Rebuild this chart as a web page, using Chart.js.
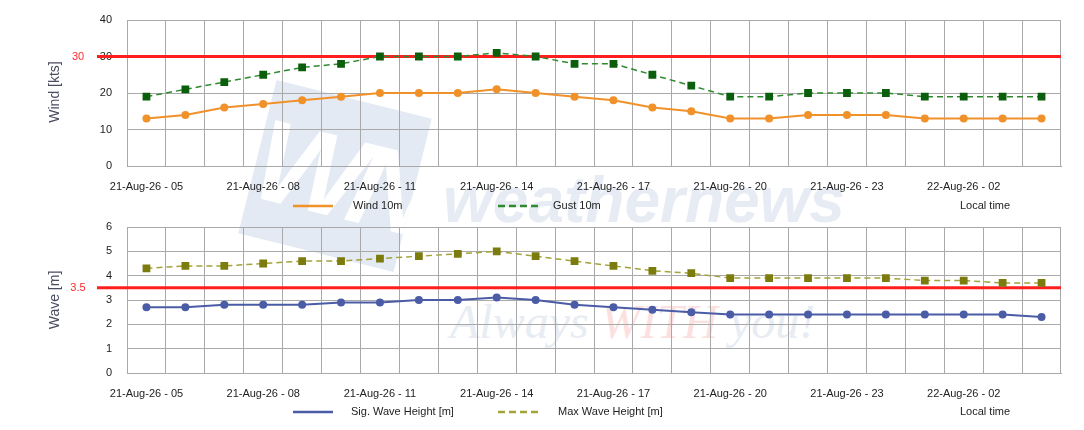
<!DOCTYPE html>
<html>
<head>
<meta charset="utf-8">
<script src="https://cdn.jsdelivr.net/npm/chart.js"></script>
<style>
  body { margin: 0; background: #fff; }
  #sheet { position: relative; width: 1084px; height: 430px; overflow: hidden; }
  .mark { position: absolute; white-space: nowrap; z-index: 0; }
  #logo {
    left: 255px; top: 97px; width: 160px; height: 158px;
    background: #e4eaf3; color: #fff; transform: rotate(14deg);
    font: italic bold 116px/158px "Liberation Sans", Arial, sans-serif;
    text-align: center; letter-spacing: -12px; overflow: hidden;
  }
  #brand {
    left: 443px; top: 168px; color: #e6ebf4;
    font: italic bold 64px/64px "Liberation Sans", Arial, sans-serif;
  }
  #motto {
    left: 450px; top: 298px; color: #e8ecf3;
    font: italic 48px/48px "Liberation Serif", "Times New Roman", serif;
  }
  #motto span { color: #fce0e0; }
  .box { position: absolute; left: 0; width: 1084px; height: 215px; z-index: 1; }
  #windBox { top: 0; }
  #waveBox { top: 215px; }
</style>
</head>
<body>
<div id="sheet">
  <div class="mark" id="logo">WN</div>
  <div class="mark" id="brand">weathernews</div>
  <div class="mark" id="motto">Always <span>WITH</span> you!</div>
  <div class="box" id="windBox"><canvas id="windChart" width="1084" height="215"></canvas></div>
  <div class="box" id="waveBox"><canvas id="waveChart" width="1084" height="215"></canvas></div>
</div>
<script>
const hourLabels = [
  '21-Aug-26 - 05', '21-Aug-26 - 06', '21-Aug-26 - 07', '21-Aug-26 - 08',
  '21-Aug-26 - 09', '21-Aug-26 - 10', '21-Aug-26 - 11', '21-Aug-26 - 12',
  '21-Aug-26 - 13', '21-Aug-26 - 14', '21-Aug-26 - 15', '21-Aug-26 - 16',
  '21-Aug-26 - 17', '21-Aug-26 - 18', '21-Aug-26 - 19', '21-Aug-26 - 20',
  '21-Aug-26 - 21', '21-Aug-26 - 22', '21-Aug-26 - 23', '22-Aug-26 - 00',
  '22-Aug-26 - 01', '22-Aug-26 - 02', '22-Aug-26 - 03', '22-Aug-26 - 04'
];

const wind10m = [13, 14, 16, 17, 18, 19, 20, 20, 20, 21, 20, 19, 18, 16, 15, 13, 13, 14, 14, 14, 13, 13, 13, 13];
const gust10m = [19, 21, 23, 25, 27, 28, 30, 30, 30, 31, 30, 28, 28, 25, 22, 19, 19, 20, 20, 20, 19, 19, 19, 19];

const sigWave = [2.7, 2.7, 2.8, 2.8, 2.8, 2.9, 2.9, 3.0, 3.0, 3.1, 3.0, 2.8, 2.7, 2.6, 2.5, 2.4, 2.4, 2.4, 2.4, 2.4, 2.4, 2.4, 2.4, 2.3];
const maxWave = [4.3, 4.4, 4.4, 4.5, 4.6, 4.6, 4.7, 4.8, 4.9, 5.0, 4.8, 4.6, 4.4, 4.2, 4.1, 3.9, 3.9, 3.9, 3.9, 3.9, 3.8, 3.8, 3.7, 3.7];

const windLimit = 30;
const waveLimit = 3.5;

const FONT = '"Liberation Sans", Arial, sans-serif';
const gridGray = '#a9a9a9';

Chart.defaults.font.family = FONT;

// threshold line, axis title and the hand placed legend row
const sheetDecor = {
  id: 'sheetDecor',
  beforeDatasetsDraw(chart, args, o) {
    const { ctx, chartArea } = chart;
    const y = chart.scales.y.getPixelForValue(o.limit);
    ctx.save();
    ctx.strokeStyle = '#ff1e1e';
    ctx.lineWidth = 3;
    ctx.beginPath();
    ctx.moveTo(97, y);
    ctx.lineTo(chartArea.right, y);
    ctx.stroke();
    ctx.fillStyle = '#ff2a2a';
    ctx.font = '11px ' + FONT;
    ctx.textAlign = 'center';
    ctx.textBaseline = 'middle';
    ctx.fillText(String(o.limit), 78, y);
    ctx.restore();
  },
  afterDraw(chart, args, o) {
    const { ctx } = chart;
    ctx.save();
    ctx.translate(55, o.titleY);
    ctx.rotate(-Math.PI / 2);
    ctx.fillStyle = '#4a4c60';
    ctx.font = '14px ' + FONT;
    ctx.textAlign = 'center';
    ctx.textBaseline = 'middle';
    ctx.fillText(o.title, 0, 0);
    ctx.restore();

    ctx.save();
    ctx.font = '11px ' + FONT;
    ctx.textBaseline = 'middle';
    ctx.textAlign = 'left';
    chart.data.datasets.forEach((ds, i) => {
      const item = o.legend[i];
      ctx.strokeStyle = ds.borderColor;
      ctx.lineWidth = 2.5;
      ctx.setLineDash(ds.borderDash ? [7, 4] : []);
      ctx.beginPath();
      ctx.moveTo(item.x, o.legendY);
      ctx.lineTo(item.x + 40, o.legendY);
      ctx.stroke();
      ctx.fillStyle = '#222';
      ctx.fillText(ds.label, item.tx, o.legendY);
    });
    ctx.fillText('Local time', 960, o.legendY);
    ctx.restore();
  }
};

function lineChart(canvasId, opts) {
  return new Chart(document.getElementById(canvasId), {
    type: 'line',
    data: { labels: hourLabels, datasets: opts.datasets },
    options: {
      responsive: false,
      animation: false,
      layout: { padding: { top: opts.top, right: 23, left: 0, bottom: 0 } },
      plugins: {
        legend: { display: false },
        tooltip: { enabled: false },
        sheetDecor: opts.decor
      },
      scales: {
        x: {
          offset: true,
          grid: { offset: true, color: gridGray, drawTicks: false },
          border: { color: gridGray },
          ticks: {
            autoSkip: false,
            maxRotation: 0,
            padding: 14,
            color: '#222',
            font: { size: 11 },
            callback: (v, i) => (i % 3 === 0 ? hourLabels[i] : '')
          },
          afterFit: s => {
            s.height = opts.xHeight;
            s.paddingLeft = 0;
            s.paddingRight = 0;
          }
        },
        y: {
          min: 0,
          max: opts.max,
          ticks: { stepSize: opts.step, padding: 15, color: '#222', font: { size: 11 } },
          grid: { color: gridGray, drawTicks: false },
          border: { color: gridGray },
          afterFit: s => {
            s.width = 127;
            s.paddingTop = 0;
            s.paddingBottom = 0;
          }
        }
      }
    },
    plugins: [sheetDecor]
  });
}

lineChart('windChart', {
  top: 20,
  xHeight: 49,
  max: 40,
  step: 10,
  datasets: [
    {
      label: 'Wind 10m',
      data: wind10m,
      borderColor: '#f0912a',
      backgroundColor: '#f0912a',
      borderWidth: 2,
      pointStyle: 'circle',
      pointRadius: 4,
      pointBorderWidth: 0
    },
    {
      label: 'Gust 10m',
      data: gust10m,
      borderColor: '#2f8a2f',
      backgroundColor: '#0b5e0b',
      borderWidth: 1.5,
      borderDash: [6, 4],
      pointStyle: 'rect',
      pointRadius: 5.5,
      pointBorderWidth: 0
    }
  ],
  decor: {
    limit: windLimit,
    title: 'Wind [kts]',
    titleY: 92,
    legendY: 206,
    legend: [{ x: 293, tx: 353 }, { x: 498, tx: 553 }]
  }
});

lineChart('waveChart', {
  top: 12,
  xHeight: 57,
  max: 6,
  step: 1,
  datasets: [
    {
      label: 'Sig. Wave Height [m]',
      data: sigWave,
      borderColor: '#4a5ca6',
      backgroundColor: '#4a5ca6',
      borderWidth: 2,
      pointStyle: 'circle',
      pointRadius: 4,
      pointBorderWidth: 0
    },
    {
      label: 'Max Wave Height [m]',
      data: maxWave,
      borderColor: '#a3a33a',
      backgroundColor: '#7b7b0e',
      borderWidth: 1.5,
      borderDash: [6, 4],
      pointStyle: 'rect',
      pointRadius: 5.5,
      pointBorderWidth: 0
    }
  ],
  decor: {
    limit: waveLimit,
    title: 'Wave [m]',
    titleY: 85,
    legendY: 197,
    legend: [{ x: 293, tx: 351 }, { x: 498, tx: 558 }]
  }
});
</script>
</body>
</html>
